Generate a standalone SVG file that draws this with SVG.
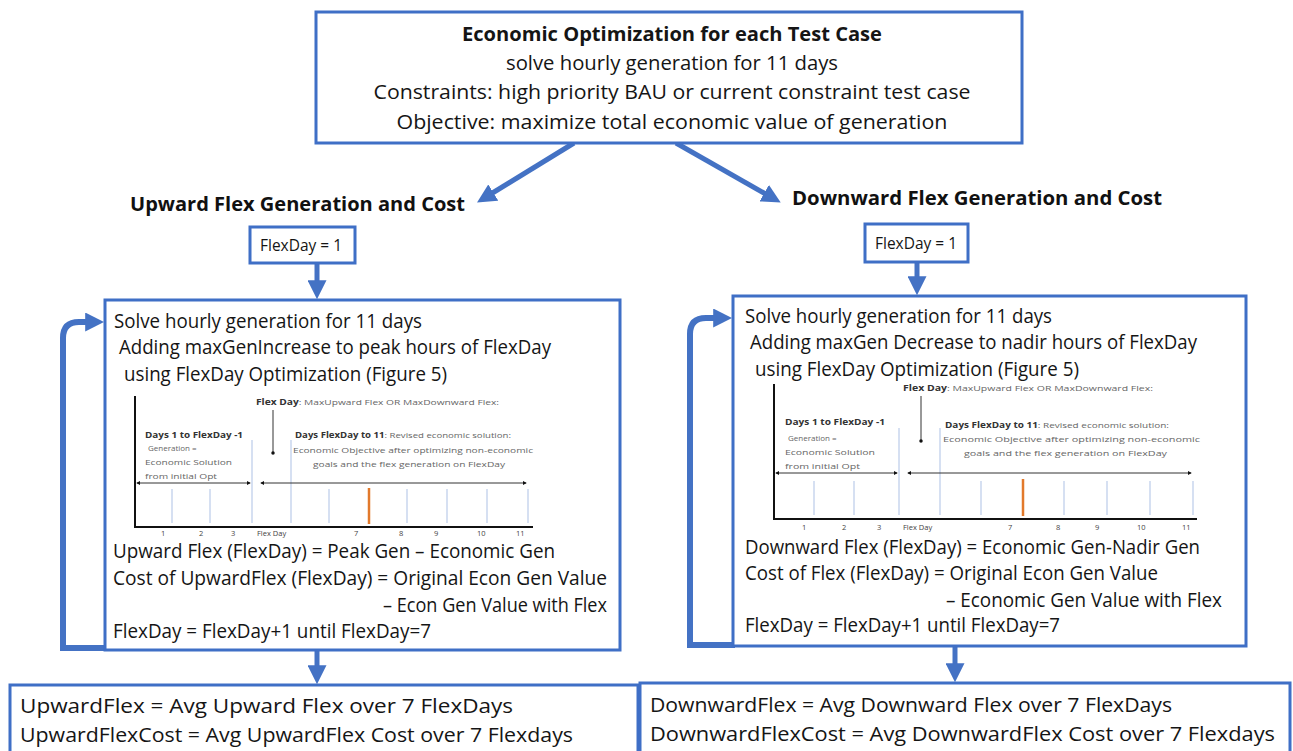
<svg xmlns="http://www.w3.org/2000/svg" width="1293" height="751" viewBox="0 0 1293 751">
<defs>
<style>
.box{fill:#fff;stroke:#3F6FC6;stroke-width:3}
.t{font-family:"Open Sans","Noto Sans",sans-serif;font-size:20px;fill:#151515}
.b{font-weight:bold}
.h{font-family:"Open Sans","Noto Sans",sans-serif;font-size:20px;font-weight:bold;fill:#111}
.s{font-family:"Open Sans","Noto Sans",sans-serif;font-size:8px;fill:#666}
.sb{font-weight:bold;fill:#333}
.n{font-family:"Open Sans","Noto Sans",sans-serif;font-size:7.5px;fill:#444}
.con{fill:none;stroke:#4472C4;stroke-width:5}
.loop{fill:none;stroke:#4472C4;stroke-width:6}
.ax{fill:none;stroke:#111;stroke-width:2}
.lt{stroke:#c8d6ee;stroke-width:1.5}
.or{stroke:#E2792B;stroke-width:2.5}
.da{stroke:#333;stroke-width:1;fill:none}
</style>
<marker id="ah" viewBox="0 0 10 10" refX="2" refY="5" markerWidth="19" markerHeight="19" markerUnits="userSpaceOnUse" orient="auto"><path d="M0,0 L10,5 L0,10 z" fill="#4472C4"/></marker>
<marker id="sm" viewBox="0 0 10 10" refX="8" refY="5" markerWidth="4" markerHeight="4" markerUnits="userSpaceOnUse" orient="auto-start-reverse"><path d="M0,0 L10,5 L0,10 z" fill="#111"/></marker>
<marker id="dot" viewBox="0 0 10 10" refX="5" refY="5" markerWidth="3.5" markerHeight="3.5" markerUnits="userSpaceOnUse"><circle cx="5" cy="5" r="5" fill="#111"/></marker>
</defs>
<rect width="1293" height="751" fill="#fff"/>

<g id="connectors">
<line class="con" x1="574" y1="143" x2="490" y2="194.5" marker-end="url(#ah)"/>
<line class="con" x1="676" y1="143" x2="767.5" y2="195" marker-end="url(#ah)"/>
<line class="con" x1="317" y1="263" x2="317" y2="284" marker-end="url(#ah)"/>
<line class="con" x1="917" y1="262" x2="917" y2="280" marker-end="url(#ah)"/>
<line class="con" x1="317" y1="651" x2="317" y2="669" marker-end="url(#ah)"/>
<line class="con" x1="955" y1="647" x2="955" y2="667" marker-end="url(#ah)"/>
<path class="loop" d="M107 648 H63 V338 Q63 322 79 322 H89" marker-end="url(#ah)"/>
<path class="loop" d="M735 645 H690 V334 Q690 318 706 318 H717" marker-end="url(#ah)"/>
</g>

<g id="top">
<rect class="box" x="316" y="12" width="706" height="131"/>
<text class="t b" x="672" y="41" text-anchor="middle" textLength="420" lengthAdjust="spacingAndGlyphs">Economic Optimization for each Test Case</text>
<text class="t" x="672" y="70" text-anchor="middle" textLength="332" lengthAdjust="spacingAndGlyphs">solve hourly generation for 11 days</text>
<text class="t" x="672" y="99" text-anchor="middle" textLength="597" lengthAdjust="spacingAndGlyphs">Constraints: high priority BAU or current constraint test case</text>
<text class="t" x="672" y="129" text-anchor="middle" textLength="551" lengthAdjust="spacingAndGlyphs">Objective: maximize total economic value of generation</text>
</g>

<g id="upward-title"><text class="h" x="130" y="211" textLength="335" lengthAdjust="spacingAndGlyphs">Upward Flex Generation and Cost</text></g>
<g id="downward-title"><text class="h" x="792" y="205" textLength="370" lengthAdjust="spacingAndGlyphs">Downward Flex Generation and Cost</text></g>

<g id="flexday-up">
<rect class="box" x="250" y="227" width="105" height="36"/>
<text class="t" x="260" y="251" style="font-size:17px" textLength="82" lengthAdjust="spacingAndGlyphs">FlexDay = 1</text>
</g>
<g id="flexday-down">
<rect class="box" x="865" y="224" width="103" height="38"/>
<text class="t" x="875" y="249" style="font-size:17px" textLength="82" lengthAdjust="spacingAndGlyphs">FlexDay = 1</text>
</g>

<g id="loop-up">
<rect class="box" x="105" y="300" width="515" height="350"/>
<text class="t" x="114" y="328" textLength="308" lengthAdjust="spacingAndGlyphs">Solve hourly generation for 11 days</text>
<text class="t" x="119" y="354" textLength="432" lengthAdjust="spacingAndGlyphs">Adding maxGenIncrease to peak hours of FlexDay</text>
<text class="t" x="124" y="381" textLength="323" lengthAdjust="spacingAndGlyphs">using FlexDay Optimization (Figure 5)</text>
<g id="chart-up">
<line class="lt" x1="172" y1="489" x2="172" y2="523"/>
<line class="lt" x1="210" y1="489" x2="210" y2="523"/>
<line class="lt" x1="252" y1="440" x2="252" y2="523"/>
<line class="lt" x1="291" y1="440" x2="291" y2="523"/>
<line class="lt" x1="329" y1="489" x2="329" y2="523"/>
<line class="lt" x1="407" y1="489" x2="407" y2="523"/>
<line class="lt" x1="447" y1="489" x2="447" y2="523"/>
<line class="lt" x1="487" y1="489" x2="487" y2="523"/>
<line class="lt" x1="528" y1="489" x2="528" y2="523"/>
<line class="or" x1="369" y1="488" x2="369" y2="524"/>
<path class="ax" d="M135 396 V527 H533"/>
<line class="da" x1="137" y1="483" x2="250" y2="483" marker-start="url(#sm)" marker-end="url(#sm)"/>
<line class="da" x1="261" y1="483" x2="526" y2="483" marker-start="url(#sm)" marker-end="url(#sm)"/>
<line class="da" x1="273" y1="410" x2="273" y2="453" marker-end="url(#dot)"/>
<text class="s" x="256" y="405" textLength="243" lengthAdjust="spacingAndGlyphs"><tspan class="sb">Flex Day</tspan>: MaxUpward Flex OR  MaxDownward Flex:</text>
<text class="s sb" x="145" y="438" textLength="98" lengthAdjust="spacingAndGlyphs">Days 1 to FlexDay -1</text>
<text class="s" x="148" y="451">Generation =</text>
<text class="s" x="145" y="465" textLength="87" lengthAdjust="spacingAndGlyphs">Economic Solution</text>
<text class="s" x="145" y="479" textLength="72" lengthAdjust="spacingAndGlyphs">from initial Opt</text>
<text class="s" x="295" y="438" textLength="216" lengthAdjust="spacingAndGlyphs"><tspan class="sb">Days FlexDay to 11</tspan>: Revised economic solution:</text>
<text class="s" x="293" y="453" textLength="240" lengthAdjust="spacingAndGlyphs">Economic Objective after optimizing non-economic</text>
<text class="s" x="313" y="467" textLength="192" lengthAdjust="spacingAndGlyphs">goals and the flex generation on FlexDay</text>
<text class="n" x="161" y="536">1</text>
<text class="n" x="199" y="536">2</text>
<text class="n" x="231" y="536">3</text>
<text class="n" x="257" y="536">Flex Day</text>
<text class="n" x="354" y="536">7</text>
<text class="n" x="399" y="536">8</text>
<text class="n" x="434" y="536">9</text>
<text class="n" x="477" y="536">10</text>
<text class="n" x="516" y="536">11</text>
</g>
<text class="t" x="113" y="558" textLength="442" lengthAdjust="spacingAndGlyphs">Upward Flex (FlexDay) = Peak Gen – Economic Gen</text>
<text class="t" x="113" y="585" textLength="494" lengthAdjust="spacingAndGlyphs">Cost of UpwardFlex (FlexDay)  = Original Econ Gen Value</text>
<text class="t" x="607" y="612" text-anchor="end" textLength="224" lengthAdjust="spacingAndGlyphs">– Econ Gen Value with Flex</text>
<text class="t" x="113" y="638" textLength="318" lengthAdjust="spacingAndGlyphs">FlexDay = FlexDay+1 until FlexDay=7</text>
</g>

<g id="loop-down">
<rect class="box" x="733" y="296" width="513" height="350"/>
<text class="t" x="745" y="323" textLength="307" lengthAdjust="spacingAndGlyphs">Solve hourly generation for 11 days</text>
<text class="t" x="750" y="349" textLength="447" lengthAdjust="spacingAndGlyphs">Adding maxGen Decrease to nadir hours of FlexDay</text>
<text class="t" x="755" y="376" textLength="324" lengthAdjust="spacingAndGlyphs">using FlexDay Optimization (Figure 5)</text>
<g id="chart-down">
<line class="lt" x1="814" y1="481" x2="814" y2="515"/>
<line class="lt" x1="854" y1="481" x2="854" y2="515"/>
<line class="lt" x1="899" y1="428" x2="899" y2="515"/>
<line class="lt" x1="940" y1="428" x2="940" y2="515"/>
<line class="lt" x1="981" y1="481" x2="981" y2="515"/>
<line class="lt" x1="1064" y1="481" x2="1064" y2="515"/>
<line class="lt" x1="1107" y1="481" x2="1107" y2="515"/>
<line class="lt" x1="1150" y1="481" x2="1150" y2="515"/>
<line class="lt" x1="1193" y1="481" x2="1193" y2="515"/>
<line class="or" x1="1023" y1="479" x2="1023" y2="516"/>
<path class="ax" d="M774 384 V519 H1197"/>
<line class="da" x1="776" y1="473" x2="897" y2="473" marker-start="url(#sm)" marker-end="url(#sm)"/>
<line class="da" x1="908" y1="473" x2="1191" y2="473" marker-start="url(#sm)" marker-end="url(#sm)"/>
<line class="da" x1="921" y1="396" x2="921" y2="441" marker-end="url(#dot)"/>
<text class="s" x="903" y="391" textLength="250" lengthAdjust="spacingAndGlyphs"><tspan class="sb">Flex Day</tspan>: MaxUpward Flex OR  MaxDownward Flex:</text>
<text class="s sb" x="785" y="425" textLength="100" lengthAdjust="spacingAndGlyphs">Days 1 to FlexDay -1</text>
<text class="s" x="788" y="441">Generation =</text>
<text class="s" x="785" y="455" textLength="90" lengthAdjust="spacingAndGlyphs">Economic Solution</text>
<text class="s" x="785" y="469" textLength="75" lengthAdjust="spacingAndGlyphs">from initial Opt</text>
<text class="s" x="945" y="428" textLength="224" lengthAdjust="spacingAndGlyphs"><tspan class="sb">Days FlexDay to 11</tspan>: Revised economic solution:</text>
<text class="s" x="943" y="442" textLength="257" lengthAdjust="spacingAndGlyphs">Economic Objective after optimizing non-economic</text>
<text class="s" x="964" y="456" textLength="203" lengthAdjust="spacingAndGlyphs">goals and the flex generation on FlexDay</text>
<text class="n" x="802" y="530">1</text>
<text class="n" x="842" y="530">2</text>
<text class="n" x="877" y="530">3</text>
<text class="n" x="903" y="530">Flex Day</text>
<text class="n" x="1008" y="530">7</text>
<text class="n" x="1056" y="530">8</text>
<text class="n" x="1095" y="530">9</text>
<text class="n" x="1137" y="530">10</text>
<text class="n" x="1182" y="530">11</text>
</g>
<text class="t" x="745" y="554" textLength="455" lengthAdjust="spacingAndGlyphs">Downward Flex (FlexDay) = Economic Gen-Nadir Gen</text>
<text class="t" x="745" y="580" textLength="413" lengthAdjust="spacingAndGlyphs">Cost of Flex (FlexDay)  = Original Econ Gen Value</text>
<text class="t" x="1222" y="607" text-anchor="end" textLength="276" lengthAdjust="spacingAndGlyphs">– Economic Gen Value with Flex</text>
<text class="t" x="745" y="632" textLength="315" lengthAdjust="spacingAndGlyphs">FlexDay = FlexDay+1 until FlexDay=7</text>
</g>

<g id="result-up">
<rect class="box" x="10" y="685" width="628" height="80"/>
<text class="t" x="20" y="713" textLength="493" lengthAdjust="spacingAndGlyphs">UpwardFlex = Avg Upward Flex over 7 FlexDays</text>
<text class="t" x="20" y="742" textLength="553" lengthAdjust="spacingAndGlyphs">UpwardFlexCost = Avg UpwardFlex Cost over 7 Flexdays</text>
</g>
<g id="result-down">
<rect class="box" x="640" y="683" width="650" height="82"/>
<text class="t" x="650" y="712" textLength="522" lengthAdjust="spacingAndGlyphs">DownwardFlex = Avg Downward Flex over 7 FlexDays</text>
<text class="t" x="650" y="741" textLength="625" lengthAdjust="spacingAndGlyphs">DownwardFlexCost = Avg DownwardFlex Cost over 7 Flexdays</text>
</g>
</svg>
